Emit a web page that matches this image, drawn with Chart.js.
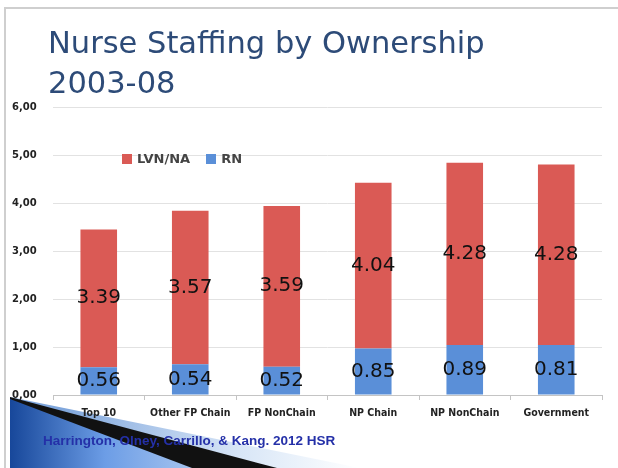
<!DOCTYPE html>
<html>
<head>
<meta charset="utf-8">
<script src="https://cdn.jsdelivr.net/npm/chart.js@4.4.1/dist/chart.umd.min.js"></script>
<style>
  body { margin: 0; background: #fff; }
  #slide { position: relative; width: 618px; height: 468px; overflow: hidden; background: #fff; }
  #frame { position: absolute; left: 4px; top: 7px; width: 620px; height: 470px;
           border-top: 2px solid #cfcfcf; border-left: 2px solid #cfcfcf; }
  #deco { position: absolute; left: 0; top: 0; }
  #mainChart { position: absolute; left: 0; top: 0; }
  #chartTitle { position: absolute; left: 48px; top: 23px; margin: 0;
                font: 30.5px/40px "DejaVu Sans", sans-serif; color: #2d4b78; }
  #legend { position: absolute; left: 122px; top: 151px; font: bold 13px "DejaVu Sans", sans-serif; color: #444; }
  #legend span.item { margin-right: 16px; }
  #legend i { display: inline-block; width: 10px; height: 10px; margin-right: 5px; vertical-align: -1px; }
  #cite { position: absolute; left: 43px; top: 433px; font: bold 13.5px "Liberation Sans", Arial, sans-serif; color: #2430a8; }
</style>
</head>
<body>
<div id="slide">
  <svg id="deco" width="618" height="468">
    <defs>
      <linearGradient id="blueFill" x1="10" y1="0" x2="200" y2="0" gradientUnits="userSpaceOnUse">
        <stop offset="0" stop-color="#17479a"/>
        <stop offset="0.5" stop-color="#6c9de6"/>
        <stop offset="1" stop-color="#a9c6ef"/>
      </linearGradient>
      <linearGradient id="paleFill" x1="60" y1="0" x2="360" y2="0" gradientUnits="userSpaceOnUse">
        <stop offset="0" stop-color="#7fa6dc"/>
        <stop offset="0.6" stop-color="#d8e6f7"/>
        <stop offset="1" stop-color="#ffffff"/>
      </linearGradient>
    </defs>
    <polygon points="10,397 360,468 10,468" fill="url(#paleFill)"/>
    <polygon points="10,397 277,468 10,468" fill="#111"/>
    <polygon points="10,399 192,468 10,468" fill="url(#blueFill)"/>
  </svg>
  <div id="frame"></div>
  <canvas id="mainChart" width="618" height="468"></canvas>
  <h1 id="chartTitle">Nurse Staffing by Ownership<br>2003-08</h1>
  <div id="legend"></div>
  <div id="cite">Harrington, Olney, Carrillo, &amp; Kang. 2012 HSR</div>
</div>
<script>
const categories = ["Top 10", "Other FP Chain", "FP NonChain", "NP Chain", "NP NonChain", "Government"];

/* bar segment heights as drawn in the picture */
const rnHeights = [0.58, 0.64, 0.59, 0.97, 1.04, 1.04];
const lvnHeights = [2.87, 3.20, 3.35, 3.45, 3.80, 3.76];

/* numbers printed on the bars */
const rnLabels = ["0.56", "0.54", "0.52", "0.85", "0.89", "0.81"];
const lvnLabels = ["3.39", "3.57", "3.59", "4.04", "4.28", "4.28"];

const yTicks = [0, 1, 2, 3, 4, 5, 6];

const ctx = document.getElementById("mainChart");

/* draw the printed numbers centred in each segment */
const segmentLabels = {
  id: "segmentLabels",
  afterDatasetsDraw(chart) {
    const c = chart.ctx;
    c.save();
    c.font = "20px 'DejaVu Sans', sans-serif";
    c.fillStyle = "#111";
    c.textAlign = "center";
    c.textBaseline = "middle";
    chart.data.datasets.forEach((ds, i) => {
      chart.getDatasetMeta(i).data.forEach((bar, j) => {
        c.fillText(ds.printed[j], bar.x, (bar.y + bar.base) / 2);
      });
    });
    c.restore();
  }
};

const chart = new Chart(ctx, {
  type: "bar",
  data: {
    labels: categories,
    datasets: [
      { label: "RN", data: rnHeights, printed: rnLabels, backgroundColor: "#5a8fd8" },
      { label: "LVN/NA", data: lvnHeights, printed: lvnLabels, backgroundColor: "#da5a55" }
    ]
  },
  options: {
    responsive: false,
    animation: false,
    categoryPercentage: 1,
    barPercentage: 0.4,
    layout: { padding: { top: 107, right: 16, bottom: 0, left: 12 } },
    plugins: {
      legend: { display: false },
      tooltip: { enabled: false }
    },
    scales: {
      x: {
        stacked: true,
        grid: { drawOnChartArea: false, tickLength: 5, color: "#c4c4c4" },
        border: { color: "#c4c4c4" },
        ticks: {
          color: "#222",
          padding: 7,
          maxRotation: 0,
          font: { family: "'DejaVu Sans Condensed', 'DejaVu Sans'", size: 10.5, weight: "bold" }
        },
        afterFit(scale) { scale.height = 73; }
      },
      y: {
        stacked: true,
        min: yTicks[0],
        max: yTicks[yTicks.length - 1],
        afterBuildTicks(scale) { scale.ticks = yTicks.map(v => ({ value: v })); },
        grid: { color: "#e2e2e2", drawTicks: false },
        border: { display: false },
        ticks: {
          color: "#222",
          crossAlign: "far",
          font: { family: "'DejaVu Sans'", size: 10, weight: "bold" },
          callback: v => v.toFixed(2).replace(".", ",")
        },
        afterFit(scale) { scale.width = 41; }
      }
    }
  },
  plugins: [segmentLabels]
});

/* legend: LVN/NA first, then RN */
const legend = document.getElementById("legend");
chart.data.datasets.slice().reverse().forEach(ds => {
  const item = document.createElement("span");
  item.className = "item";
  item.innerHTML = '<i style="background:' + ds.backgroundColor + '"></i>' + ds.label;
  legend.appendChild(item);
});
</script>
</body>
</html>
